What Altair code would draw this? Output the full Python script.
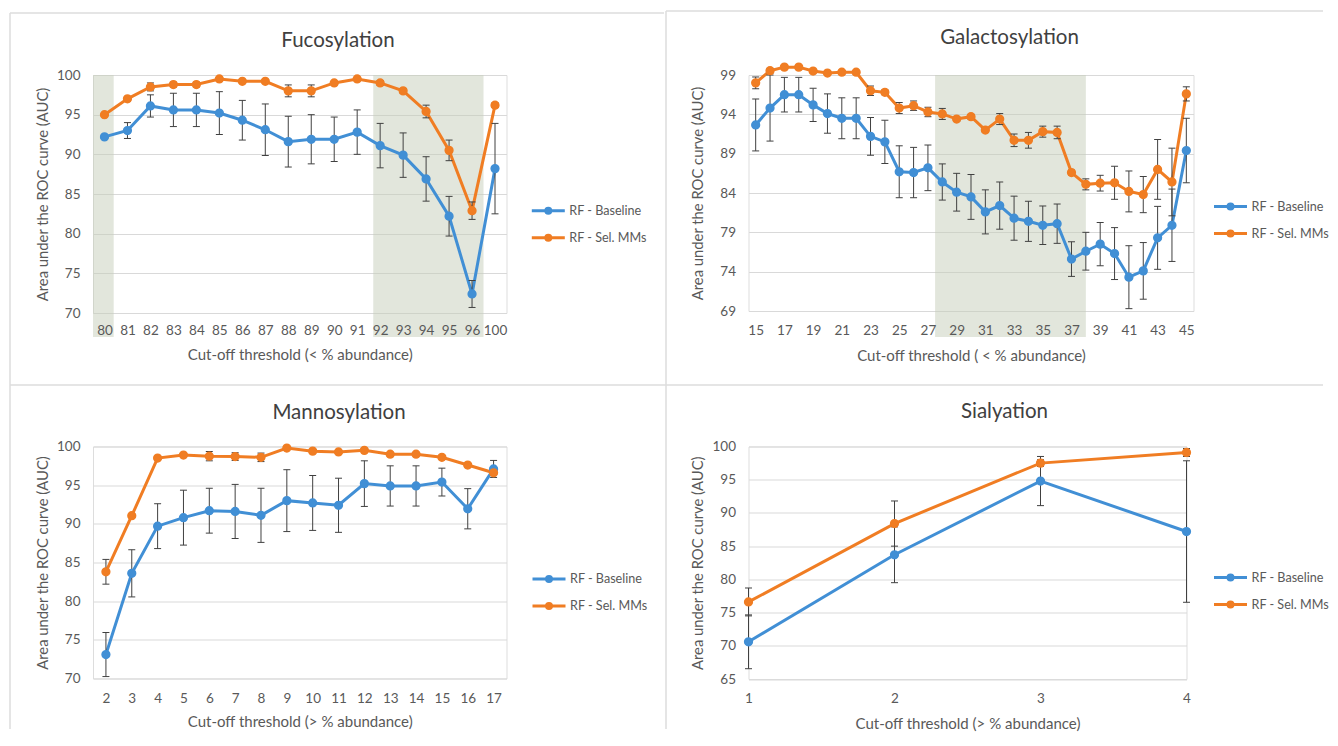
import altair as alt
import pandas as pd

SERIES = ["RF - Baseline", "RF - Sel. MMs"]
COLORS = ["#418fd5", "#f07d23"]

# ---------------- Fucosylation ----------------
fuco_labels = ["80", "81", "82", "83", "84", "85", "86", "87", "88", "89",
               "90", "91", "92", "93", "94", "95", "96", "100"]
fuco_base = [92.2, 93.0, 96.1, 95.6, 95.6, 95.2, 94.3, 93.1, 91.6, 91.9,
             91.9, 92.8, 91.1, 89.9, 86.9, 82.2, 72.4, 88.2]
fuco_base_err = [0.3, 1.0, 1.4, 2.1, 2.1, 2.7, 2.5, 3.25, 3.2, 3.1,
                 2.8, 2.8, 2.8, 2.8, 2.8, 2.5, 1.7, 5.7]
fuco_sel = [95.0, 97.0, 98.5, 98.8, 98.8, 99.5, 99.2, 99.2, 98.0, 98.0,
            99.0, 99.5, 99.0, 98.0, 95.4, 90.5, 82.9, 96.2]
fuco_sel_err = [0.2, 0.3, 0.5, 0.3, 0.3, 0.2, 0.2, 0.2, 0.75, 0.75,
                0.2, 0.2, 0.3, 0.3, 0.8, 1.3, 1.1, 0.3]
fuco_shade_from = [-0.5, 11.7]
fuco_shade_to = [0.4, 16.5]

# ---------------- Galactosylation ----------------
galac_x = list(range(15, 46))
galac_base = [92.65, 94.8, 96.5, 96.5, 95.2, 94.1, 93.5, 93.5, 91.2, 90.5,
              86.7, 86.6, 87.2, 85.4, 84.1, 83.5, 81.6, 82.4, 80.8, 80.4,
              79.9, 80.1, 75.6, 76.6, 77.5, 76.3, 73.3, 74.1, 78.3, 79.9, 89.4]
galac_base_err = [3.3, 4.2, 2.2, 2.2, 2.1, 2.5, 2.6, 2.6, 2.4, 2.75,
                  3.3, 3.2, 2.9, 2.3, 2.4, 2.85, 2.8, 3.0, 2.8, 2.55,
                  2.45, 2.5, 2.2, 2.4, 2.75, 3.3, 4.0, 3.6, 4.0, 4.6, 4.1]
galac_sel = [98.0, 99.55, 100.0, 100.0, 99.5, 99.25, 99.35, 99.35, 97.0, 96.8,
             94.8, 95.1, 94.3, 94.05, 93.4, 93.7, 92.0, 93.4, 90.7, 90.7,
             91.8, 91.7, 86.6, 85.1, 85.25, 85.3, 84.2, 83.8, 87.0, 85.4, 96.6]
galac_sel_err = [0.75, 0.3, 0.2, 0.2, 0.2, 0.2, 0.2, 0.2, 0.6, 0.3,
                 0.7, 0.6, 0.6, 0.7, 0.3, 0.3, 0.3, 0.7, 0.8, 1.0,
                 0.7, 0.8, 0.3, 0.7, 1.0, 2.1, 2.6, 2.3, 3.8, 4.3, 0.9]
galac_shade_from = [27.5]
galac_shade_to = [38.0]

# ---------------- Mannosylation ----------------
manno_x = list(range(2, 18))
manno_base = [73.1, 83.6, 89.7, 90.8, 91.7, 91.6, 91.1, 93.0, 92.7, 92.4,
              95.2, 94.9, 94.9, 95.4, 91.95, 97.1]
manno_base_err = [2.85, 3.05, 2.9, 3.55, 2.9, 3.5, 3.5, 4.0, 3.55, 3.5,
                  2.95, 2.6, 2.6, 1.8, 2.6, 1.1]
manno_sel = [83.8, 91.05, 98.5, 98.9, 98.75, 98.7, 98.6, 99.8, 99.4, 99.3,
             99.5, 99.0, 99.0, 98.6, 97.6, 96.6]
manno_sel_err = [1.6, 0.2, 0.2, 0.2, 0.6, 0.5, 0.55, 0.2, 0.2, 0.2,
                 0.2, 0.2, 0.2, 0.2, 0.2, 0.2]

# ---------------- Sialyation ----------------
sia_x = [1, 2, 3, 4]
sia_base = [70.6, 83.7, 94.8, 87.2]
sia_base_err = [4.05, 4.2, 3.7, 10.65]
sia_sel = [76.6, 88.4, 97.5, 99.1]
sia_sel_err = [2.1, 3.4, 0.5, 0.6]

TEXT = "#595959"
FONT = "Lato"
ERR = "#404040"
GRID = "#d9d9d9"
SHADE = "#c5cdb9"
BORDER = "#dcdcdc"
YTITLE = "Area under the ROC curve (AUC)"

COLOR_SCALE = alt.Scale(domain=SERIES, range=COLORS)
# legend symbol: a line with a dot (dot drawn as two stroked concentric rings)
LEGEND_PATH = ("M-1.65,0L1.65,0"
               "M0.25,0A0.25,0.25,0,1,1,-0.25,0A0.25,0.25,0,1,1,0.25,0"
               "M0.12,0A0.12,0.12,0,1,1,-0.12,0A0.12,0.12,0,1,1,0.12,0")


def long_df(xs, base, base_err, sel, sel_err):
    rows = []
    for s, vals, errs in ((SERIES[0], base, base_err), (SERIES[1], sel, sel_err)):
        for x, v, e in zip(xs, vals, errs):
            rows.append({"x": x, "series": s, "auc": v, "lo": v - e, "hi": v + e})
    return pd.DataFrame(rows)


def panel(df, xdomain, xvalues, xlabelexpr, xtitle, ydomain, yvalues, w, h,
          title, title_pos, legend_pos, xlab_pad, xtitle_y,
          shades=None, shade_bottom=0, extra=None):
    xscale = alt.Scale(domain=xdomain, nice=False, zero=False)
    yscale = alt.Scale(domain=ydomain, nice=False, zero=False)
    xaxis_kw = dict(values=xvalues, grid=False, domain=False, ticks=False,
                    tickSize=0, labelPadding=xlab_pad, labelBaseline="middle",
                    labelColor=TEXT, labelFont=FONT, labelFontSize=13.5,
                    labelOverlap=False, labelFlush=False, title=xtitle,
                    titleFont=FONT, titleFontSize=15, titleFontWeight="normal",
                    titleColor=TEXT, titleY=xtitle_y, titleBaseline="middle",
                    zindex=1)
    if xlabelexpr:
        xaxis_kw["labelExpr"] = xlabelexpr
    xaxis = alt.Axis(**xaxis_kw)
    yaxis = alt.Axis(values=yvalues, grid=True, gridColor=GRID, gridWidth=1,
                     domain=False, ticks=False, tickSize=0, labelPadding=13,
                     labelColor=TEXT, labelFont=FONT, labelFontSize=13.5,
                     format="d", title=YTITLE, titleFont=FONT,
                     titleFontSize=14.8, titleFontWeight="normal",
                     titleColor=TEXT, titleX=-50, titleY=h / 2,
                     titleBaseline="middle", titleAngle=-90)

    def X(f):
        return alt.X(f, scale=xscale, axis=xaxis)

    def Y(f):
        return alt.Y(f, scale=yscale, axis=yaxis)

    base = alt.Chart(df)
    layers = []
    if shades is not None:
        layers.append(
            alt.Chart(shades).mark_rect(color=SHADE, opacity=0.5).encode(
                x=X("start:Q"), x2="end:Q",
                y=alt.value(0), y2=alt.value(shade_bottom)))
    leg = alt.Legend(title=None, orient="none", legendX=legend_pos[0],
                     legendY=legend_pos[1], symbolType=LEGEND_PATH,
                     symbolSize=400, symbolStrokeWidth=3, labelOffset=9.5,
                     rowPadding=7, padding=0, labelFont=FONT,
                     labelFontSize=12.6, labelColor=TEXT)
    layers.append(base.mark_line(strokeWidth=3).encode(
        x=X("x:Q"), y=Y("auc:Q"),
        color=alt.Color("series:N", scale=COLOR_SCALE, legend=leg)))
    layers.append(base.mark_rule(color=ERR, strokeWidth=1).encode(
        x=X("x:Q"), y=Y("lo:Q"), y2="hi:Q"))
    layers.append(base.mark_tick(orient="horizontal", size=7, thickness=1,
                                 color=ERR, opacity=1).encode(
        x=X("x:Q"), y=Y("lo:Q")))
    layers.append(base.mark_tick(orient="horizontal", size=7, thickness=1,
                                 color=ERR, opacity=1).encode(
        x=X("x:Q"), y=Y("hi:Q")))
    layers.append(base.mark_point(filled=True, size=60, opacity=1,
                                  strokeWidth=1.5).encode(
        x=X("x:Q"), y=Y("auc:Q"),
        fill=alt.Fill("series:N", scale=COLOR_SCALE, legend=None),
        stroke=alt.Stroke("series:N", scale=COLOR_SCALE, legend=None)))
    layers.append(alt.Chart(pd.DataFrame({"t": [title]})).mark_text(
        font=FONT, fontSize=20.5, color="#404040", align="center",
        baseline="middle").encode(
        x=alt.value(title_pos[0]), y=alt.value(title_pos[1]), text="t:N"))
    if extra:
        layers.extend(extra)
    return alt.layer(*layers).properties(width=w, height=h)


def seg(x1, x2, y1, y2):
    return alt.Chart(pd.DataFrame({"a": [0]})).mark_rule(
        color=BORDER, strokeWidth=1.5).encode(
        x=alt.value(x1), x2=alt.value(x2), y=alt.value(y1), y2=alt.value(y2))


borders = [
    seg(-83, 571, -62, -62),
    seg(573, 1230, -64, -64),
    seg(-83, -83, -62, 654),
    seg(-83, 1230, 310, 310),
    seg(573, 573, -64, 654),
]

df_a = long_df(list(range(len(fuco_labels))), fuco_base, fuco_base_err,
               fuco_sel, fuco_sel_err)
shade_a = pd.DataFrame({"start": fuco_shade_from, "end": fuco_shade_to})
expr_a = "[" + ",".join("'%s'" % s for s in fuco_labels) + "][datum.value]"
a = panel(df_a, [-0.5, len(fuco_labels) - 0.5], list(range(len(fuco_labels))),
          expr_a, "Cut-off threshold (< % abundance)", [70, 100],
          [70, 75, 80, 85, 90, 95, 100], 413.5, 238, "Fucosylation",
          (245, -34), (443.8, 124.3), 17, 41, shades=shade_a,
          shade_bottom=262, extra=borders)

df_b = long_df(galac_x, galac_base, galac_base_err, galac_sel, galac_sel_err)
shade_b = pd.DataFrame({"start": galac_shade_from, "end": galac_shade_to})
b = panel(df_b, [14.5, 45.5], list(range(15, 46, 2)), None,
          "Cut-off threshold ( < % abundance)", [69, 99],
          [69, 74, 79, 84, 89, 94, 99], 445, 236, "Galactosylation",
          (261, -37), (470.5, 120), 19.3, 44.3, shades=shade_b,
          shade_bottom=262)

df_c = long_df(manno_x, manno_base, manno_base_err, manno_sel, manno_sel_err)
c = panel(df_c, [1.5, 17.5], manno_x, None,
          "Cut-off threshold (> % abundance)", [70, 100],
          [70, 75, 80, 85, 90, 95, 100], 413.5, 232, "Mannosylation",
          (246, -33.5), (444.5, 121), 20, 43.4)

df_d = long_df(sia_x, sia_base, sia_base_err, sia_sel, sia_sel_err)
d = panel(df_d, [1, 4], sia_x, None,
          "Cut-off threshold (> % abundance)", [65, 100],
          [65, 70, 75, 80, 85, 90, 95, 100], 438, 232.5, "Sialyation",
          (256, -34.5), (470.5, 119.5), 19, 44)

chart = alt.concat(a, b, c, d, columns=2,
                   spacing={"row": 133.5, "column": 241.5},
                   bounds="flush").resolve_scale(
    x="independent", y="independent", color="independent",
    fill="independent", stroke="independent"
).properties(
    padding={"left": 0, "top": 1, "right": 0, "bottom": 0}
).configure_view(stroke=None).configure(background="white")

chart.save("out.html", embed_options={"renderer": "svg", "actions": False})
